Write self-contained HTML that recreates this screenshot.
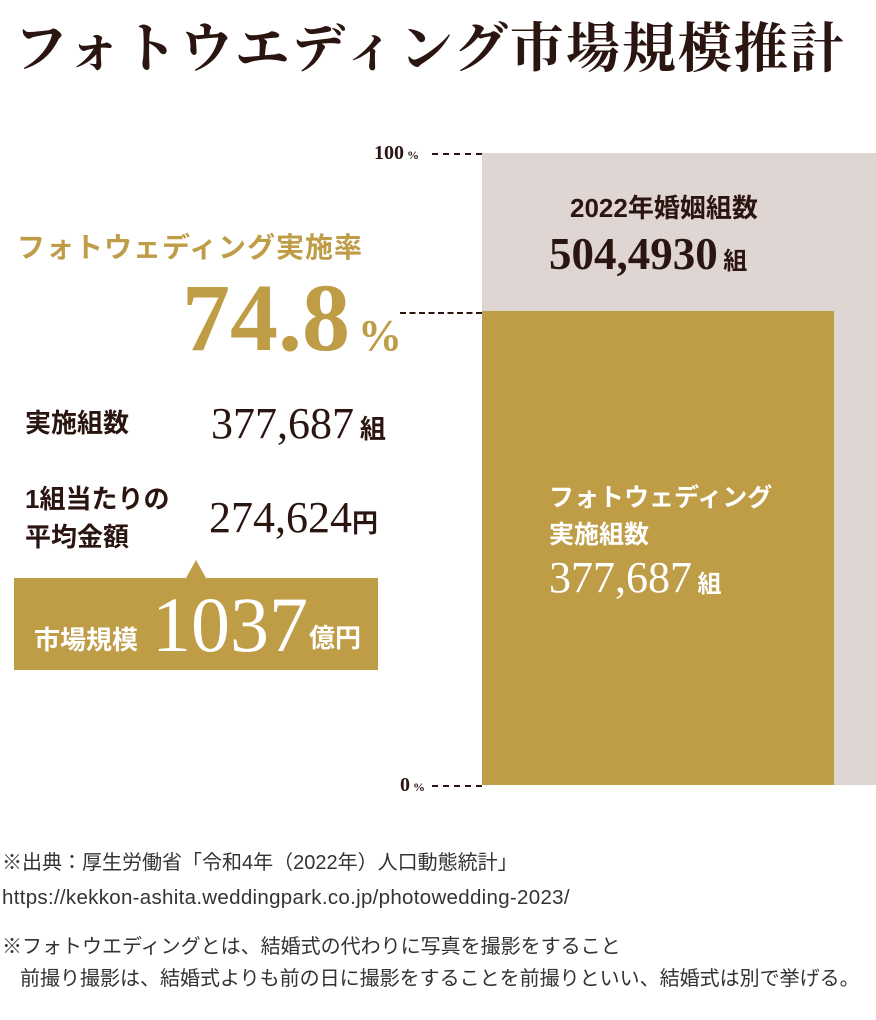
<!DOCTYPE html>
<html><head><meta charset="utf-8"><style>
*{margin:0;padding:0}
body{width:876px;height:1020px;background:#fff;position:relative;overflow:hidden;font-family:"Liberation Sans","Noto Sans CJK JP",sans-serif;color:#2b1510}
.a{position:absolute;white-space:nowrap}
.serif{font-family:"Liberation Serif","Noto Serif CJK JP",serif}
.dash{position:absolute;border-top:2px dashed #2b1510;height:0}
.g{color:#bf9d47}
.u{font-family:'Noto Sans CJK JP',sans-serif;font-weight:700}
</style></head><body>
<div class="a" style="left:14px;top:6px;font-size:54px;font-weight:700;letter-spacing:2px;font-family:'Noto Serif CJK JP',serif;color:#2b1510">フォトウエディング市場規模推計</div>

<div class="a" style="left:482px;top:153px;width:394px;height:632px;background:#dfd6d3"></div>
<div class="a" style="left:482px;top:311px;width:352px;height:474px;background:#bf9d47"></div>
<div class="dash" style="left:432px;top:153px;width:50px"></div>
<div class="dash" style="left:400px;top:312px;width:82px"></div>
<div class="dash" style="left:432px;top:785px;width:50px"></div>
<div class="a serif" style="left:374px;top:142px;font-size:20px;font-weight:700">100<span style="font-size:12px"> %</span></div>
<div class="a serif" style="left:400px;top:774px;font-size:20px;font-weight:700">0<span style="font-size:12px"> %</span></div>

<div class="a" style="left:570px;top:188px;font-size:26px;font-weight:700">2022年婚姻組数</div>
<div class="a serif" style="left:549px;top:228px;font-size:45px;font-weight:700">504,4930<span class="u" style="font-size:24px"> 組</span></div>

<div class="a" style="left:549px;top:480px;font-size:25px;font-weight:700;color:#fff;line-height:37px">フォトウェディング<br>実施組数</div>
<div class="a serif" style="left:549px;top:552px;font-size:44px;color:#fff">377,687<span class="u" style="font-size:24px"> 組</span></div>

<div class="a g" style="left:17px;top:226px;font-size:28px;font-weight:700;letter-spacing:1px">フォトウェディング実施率</div>
<div class="a serif g" style="left:182px;top:262px;font-size:96px;font-weight:700">74.8<span style="font-size:44px;margin-left:8px">%</span></div>

<div class="a" style="left:25px;top:403px;font-size:26px;font-weight:700">実施組数</div>
<div class="a serif" style="left:211px;top:398px;font-size:44px">377,687<span class="u" style="font-size:26px"> 組</span></div>

<div class="a" style="left:25px;top:480px;font-size:26px;font-weight:700;line-height:38px">1組当たりの<br>平均金額</div>
<div class="a serif" style="left:209px;top:492px;font-size:44px">274,624<span class="u" style="font-size:26px">円</span></div>

<div class="a" style="left:186px;top:560px;width:0;height:0;border-left:10px solid transparent;border-right:10px solid transparent;border-bottom:18px solid #bf9d47"></div>
<div class="a" style="left:14px;top:578px;width:364px;height:92px;background:#bf9d47"></div>
<div class="a" style="left:34px;top:620px;font-size:26px;font-weight:700;color:#fff">市場規模</div>
<div class="a serif" style="left:152px;top:580px;font-size:78px;color:#fff">1037</div>
<div class="a" style="left:309px;top:618px;font-size:26px;font-weight:700;color:#fff">億円</div>

<div class="a" style="left:2px;top:846px;font-size:20px;color:#333">※出典：厚生労働省「令和4年（2022年）人口動態統計」</div>
<div class="a" style="left:2px;top:886px;font-size:20.5px;color:#333;letter-spacing:0.3px">https://kekkon-ashita.weddingpark.co.jp/photowedding-2023/</div>
<div class="a" style="left:2px;top:930px;font-size:20px;color:#333">※フォトウエディングとは、結婚式の代わりに写真を撮影をすること</div>
<div class="a" style="left:20px;top:962px;font-size:20px;color:#333">前撮り撮影は、結婚式よりも前の日に撮影をすることを前撮りといい、結婚式は別で挙げる。</div>
</body></html>
